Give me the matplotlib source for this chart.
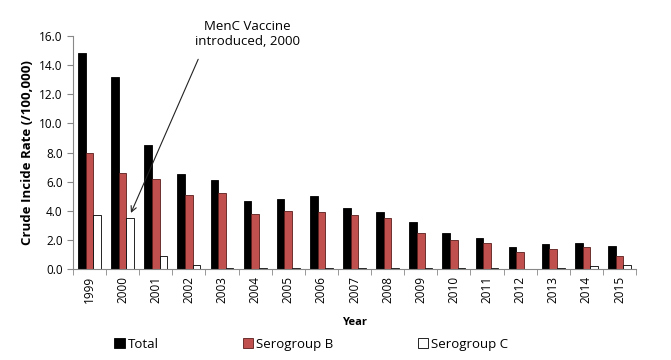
import numpy as np
from matplotlib import pyplot as plt

plt.rcParams['font.family'] = ['Open Sans', 'DejaVu Sans']

# crude incidence rate per 100,000
years = ['1999', '2000', '2001', '2002', '2003', '2004', '2005', '2006', '2007',
         '2008', '2009', '2010', '2011', '2012', '2013', '2014', '2015']
total = [14.8, 13.2, 8.5, 6.5, 6.1, 4.7, 4.8, 5.0, 4.2,
         3.9, 3.2, 2.5, 2.1, 1.5, 1.7, 1.8, 1.6]
sero_b = [8.0, 6.6, 6.2, 5.1, 5.2, 3.8, 4.0, 3.9, 3.7,
          3.5, 2.5, 2.0, 1.8, 1.2, 1.4, 1.5, 0.9]
sero_c = [3.7, 3.5, 0.9, 0.3, 0.05, 0.05, 0.05, 0.05, 0.05,
          0.05, 0.05, 0.05, 0.05, 0.0, 0.05, 0.2, 0.25]

fig = plt.figure(figsize=(6.71, 3.6), dpi=100)
ax = fig.add_axes([73 / 671, 1 - 269 / 360, (636 - 73) / 671, (269 - 36) / 360])

x = np.arange(len(years))
w = 0.23
ax.bar(x - w, total, w, color='black', edgecolor='black', linewidth=0.6, label='Total')
ax.bar(x, sero_b, w, color='#C0504D', edgecolor='#5a1e1c', linewidth=0.6, label='Serogroup B')
ax.bar(x + w, sero_c, w, color='white', edgecolor='black', linewidth=0.6, label='Serogroup C')

ax.set_xlim(-0.5, len(years) - 0.5)
ax.set_ylim(0, 16)
ax.set_yticks(np.arange(0, 16.1, 2))
ax.set_yticklabels(['%.1f' % v for v in np.arange(0, 16.1, 2)], fontsize=8.5)

# group labels centered, ticks at group boundaries
ax.set_xticks(x)
ax.set_xticklabels(years, rotation=90, fontsize=8.5)
ax.tick_params(axis='x', which='major', length=0, pad=5)
ax.set_xticks(np.arange(-0.5, len(years), 1), minor=True)
ax.tick_params(axis='x', which='minor', length=4, color='#888888', direction='out')
ax.tick_params(axis='y', length=4, color='#888888', direction='out')

for s in ['top', 'right']:
    ax.spines[s].set_visible(False)
for s in ['left', 'bottom']:
    ax.spines[s].set_color('#888888')

ax.set_ylabel('Crude Incide Rate (/100,000)', fontsize=9.5, fontweight='bold', labelpad=4)
ax.set_xlabel('Year', fontsize=8, fontweight='bold', labelpad=10)

# annotation for the vaccine introduction
ax.text(4.76, 15.15, 'MenC Vaccine\nintroduced, 2000', ha='center', va='bottom',
        fontsize=9.5, linespacing=1.25, clip_on=False)
ax.annotate('', xy=(1.25, 3.85), xytext=(3.28, 14.4), annotation_clip=False,
            arrowprops=dict(arrowstyle='->', color='#222222', lw=0.8,
                            shrinkA=0, shrinkB=0))

fig.legend(loc='lower left', bbox_to_anchor=(105 / 671, 0.0), ncol=3, frameon=False,
           fontsize=9.5, handlelength=0.8, handleheight=0.8, handletextpad=0.2,
           columnspacing=6.4, borderaxespad=0.3)

fig.savefig('out.png', dpi=100)
